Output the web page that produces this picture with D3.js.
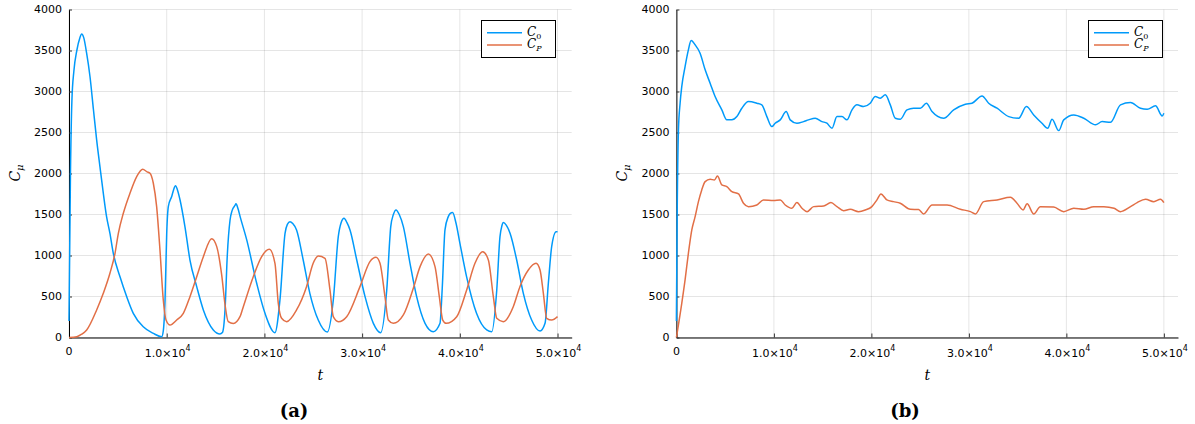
<!DOCTYPE html>
<html>
<head>
<meta charset="utf-8">
<script src="https://cdn.jsdelivr.net/npm/d3@7"></script>
<style>
  html, body { margin: 0; padding: 0; background: #fff; }
  svg { display: block; }
</style>
</head>
<body>
<svg id="chart" width="1195" height="424"></svg>
<script>
// ---------- DATA ----------
const yTicks = [0, 500, 1000, 1500, 2000, 2500, 3000, 3500, 4000];
const xTicks = [0, 10000, 20000, 30000, 40000, 50000];
const xTickLabels = ["0", "1.0×10", "2.0×10", "3.0×10", "4.0×10", "5.0×10"];
const seriesNames = ["C0", "CP"];
const panelCaptions = ["(a)", "(b)"];

// Panel (a): oscillating
const tA_C0 = [0,150,300,500,800,1100,1300,1500,1800,2150,2500,2830,3170,3510,3850,4190,4530,5220,5900,6580,7600,8630,9490,9650,9830,10000,10170,10510,10700,10900,11100,11360,11870,12380,13070,13750,14770,15450,15700,15970,16200,16480,16700,16990,17090,17300,17500,18190,19210,20060,21080,21590,22110,22350,22620,22900,23290,23970,24650,25510,26440,27050,27560,27850,28150,28450,28760,29450,30300,31150,31900,32520,32930,33200,33470,33800,34220,34900,35580,36440,37290,37970,38200,38480,38820,39000,39260,39600,40010,40690,41710,42750,43270,43780,44110,44300,44450,44750,45140,45820,46500,47350,48210,48720,49060,49400,49850,50000];
const vA_C0 = [200,2000,2900,3250,3500,3650,3700,3660,3470,3180,2780,2410,2080,1760,1470,1270,1030,740,500,295,130,50,10,80,460,1270,1600,1720,1800,1850,1800,1680,1350,945,620,336,92,43,60,340,1000,1430,1550,1610,1630,1570,1480,1190,661,295,59,457,1271,1380,1413,1390,1312,945,539,213,67,457,1230,1400,1454,1400,1312,945,498,173,59,580,1352,1500,1556,1500,1352,905,498,173,71,173,600,1312,1474,1510,1523,1400,1149,742,295,92,71,580,1230,1360,1401,1370,1271,945,539,213,79,173,661,1108,1291,1290];

const tA_CP = [0,800,1300,1810,2830,3510,4190,4710,5050,5560,6240,6930,7540,8000,8290,8630,8970,9310,9650,9930,10340,11020,11700,12380,13070,13750,14600,15120,15630,15970,16300,16820,17500,17840,18860,19720,20500,21080,21420,21760,22270,23290,24310,24990,25510,26200,26710,27050,27570,28420,29780,30800,31420,31830,32340,32680,33190,34220,35240,35930,36780,37460,37900,38250,38600,39680,40700,41550,42340,42920,43430,43780,44450,45470,46150,47010,47800,48210,48550,48890,49400,50000];
const vA_CP = [0,10,40,92,336,539,783,1027,1271,1515,1759,1962,2052,2020,2003,1881,1596,1067,457,213,152,213,295,498,742,986,1205,1108,760,400,193,172,254,376,742,986,1076,905,417,234,193,336,620,905,994,966,580,254,193,254,620,925,978,905,498,213,173,275,600,864,1018,864,498,213,173,254,580,905,1047,945,498,234,193,376,620,823,905,823,539,234,213,254];

// Panel (b): relaxing to a steady state
const tB_C0 = [0,80,210,380,550,890,1230,1510,1920,2430,2950,3460,3970,4660,5170,5690,6200,6710,7390,8250,8760,9280,9790,10130,10650,11260,11670,12360,13040,13550,14240,14930,15440,15960,16470,16980,17490,18010,18520,19200,19880,20400,20910,21430,21940,22450,22970,23650,24330,25020,25640,26220,27410,28440,29640,30320,31350,32030,32890,34090,35110,35900,36650,37500,38090,38530,39220,39730,40760,41790,42990,43670,44530,45550,46580,47600,48290,49140,49830,50000];
const vB_C0 = [200,1500,2531,2857,3060,3304,3508,3621,3570,3467,3264,3101,2938,2776,2654,2654,2694,2796,2877,2857,2837,2694,2572,2613,2654,2755,2654,2613,2633,2654,2674,2633,2613,2552,2694,2694,2654,2776,2837,2816,2857,2938,2918,2959,2837,2674,2662,2776,2796,2796,2857,2755,2674,2776,2845,2857,2946,2857,2796,2694,2674,2816,2714,2613,2552,2662,2523,2654,2714,2674,2593,2633,2625,2837,2865,2796,2784,2825,2702,2735];

const tB_CP = [0,550,890,1230,1580,1920,2260,2600,2950,3460,3900,4210,4660,5170,5690,6370,6880,7390,8250,8930,9960,10650,11160,11850,12360,12880,13400,14080,15100,15850,16470,17150,17830,18690,19370,20050,20570,20980,21590,22270,22960,23990,24840,25360,26220,27760,29130,30160,30670,31520,32890,34260,34940,35560,35970,36650,37330,38700,39730,40760,41790,42810,43840,44890,45550,46580,47260,48120,48970,49660,50000];
const vB_CP = [0,417,702,1027,1312,1474,1657,1800,1901,1930,1920,1970,1861,1840,1779,1751,1637,1596,1616,1678,1670,1678,1616,1576,1645,1576,1535,1596,1604,1645,1596,1547,1563,1535,1555,1596,1678,1751,1678,1657,1637,1564,1560,1507,1617,1617,1564,1535,1507,1657,1678,1710,1637,1556,1630,1507,1596,1590,1535,1576,1564,1596,1596,1576,1535,1596,1645,1686,1657,1686,1645];

// ---------- LAYOUT / STYLE ----------
const colors = { C0: "#009AFA", CP: "#E26F46" };
const xMax = 51450, yMax = 4000;
const panels = [
  { x0: 69.0, x1: 571.7, cap: panelCaptions[0], capX: 294, legX: 481,
    series: [{ name: "C0", t: tA_C0, v: vA_C0 }, { name: "CP", t: tA_CP, v: vA_CP }] },
  { x0: 676.4, x1: 1178.0, cap: panelCaptions[1], capX: 905, legX: 1088,
    series: [{ name: "C0", t: tB_C0, v: vB_C0 }, { name: "CP", t: tB_CP, v: vB_CP }] }
];
const yTop = 9.5, yBot = 337.5;

const svg = d3.select("#chart");
const sans = "'DejaVu Sans', sans-serif";
const serif = "'DejaVu Serif', 'Liberation Serif', serif";

panels.forEach(p => {
  const x = d3.scaleLinear().domain([0, xMax]).range([p.x0, p.x1]);
  const y = d3.scaleLinear().domain([0, yMax]).range([yBot, yTop]);
  const g = svg.append("g");

  // grid
  g.append("g").selectAll("line").data(yTicks).join("line")
    .attr("x1", p.x0).attr("x2", p.x1)
    .attr("y1", d => y(d)).attr("y2", d => y(d))
    .attr("stroke", "#000").attr("stroke-opacity", 0.1).attr("stroke-width", 1);
  g.append("g").selectAll("line").data(xTicks).join("line")
    .attr("x1", d => x(d)).attr("x2", d => x(d))
    .attr("y1", yTop).attr("y2", yBot)
    .attr("stroke", "#000").attr("stroke-opacity", 0.1).attr("stroke-width", 1);

  // axes
  const xAxis = d3.axisBottom(x).tickValues(xTicks).tickSizeInner(-4).tickSizeOuter(0).tickFormat("");
  const gx = g.append("g").attr("transform", `translate(0,${yBot})`).call(xAxis);
  gx.select(".domain").attr("stroke", "#000").attr("stroke-width", 1);
  gx.selectAll(".tick line").attr("stroke", "#333");

  const yAxis = d3.axisLeft(y).tickValues(yTicks).tickSizeInner(-3).tickSizeOuter(0).tickFormat("");
  const gy = g.append("g").attr("transform", `translate(${p.x0},0)`).call(yAxis);
  gy.select(".domain").attr("stroke", "#000").attr("stroke-width", 1);
  gy.selectAll(".tick line").attr("stroke", "#333");

  // y tick labels
  g.append("g").selectAll("text").data(yTicks).join("text")
    .attr("x", p.x0 - 7).attr("y", d => y(d)).attr("dy", "0.36em")
    .attr("text-anchor", "end").attr("font-family", sans).attr("font-size", 11)
    .attr("fill", "#000").text(d => d);

  // x tick labels
  xTicks.forEach((d, i) => {
    if (i === 0) {
      g.append("text").attr("x", x(d)).attr("y", 354.5)
        .attr("text-anchor", "middle").attr("font-family", sans).attr("font-size", 11)
        .text(xTickLabels[i]);
    } else {
      const t = g.append("text").attr("x", x(d) + 1).attr("y", 357)
        .attr("text-anchor", "middle").attr("font-family", sans).attr("font-size", 11);
      t.append("tspan").text(xTickLabels[i]);
      t.append("tspan").attr("dy", -6).attr("font-size", 8).text("4");
    }
  });

  // lines
  const line = d3.line().x(d => x(d[0])).y(d => y(d[1])).curve(d3.curveMonotoneX);
  p.series.forEach(s => {
    const pts = s.t.map((t, i) => [t, s.v[i]]);
    g.append("path").datum(pts).attr("d", line)
      .attr("fill", "none").attr("stroke", colors[s.name])
      .attr("stroke-width", 1.5).attr("stroke-linejoin", "round");
  });

  // axis labels
  const xl = (p.x0 + p.x1) / 2;
  g.append("text").attr("x", xl).attr("y", 380).attr("text-anchor", "middle")
    .attr("font-family", serif).attr("font-style", "italic").attr("font-size", 14).text("t");

  const yl = g.append("text").attr("transform", `translate(${p.x0 - 49},173) rotate(-90)`)
    .attr("text-anchor", "middle").attr("font-family", serif).attr("font-size", 14);
  yl.append("tspan").attr("font-style", "italic").text("C");
  yl.append("tspan").attr("dy", 3).attr("font-size", 10).attr("font-style", "italic").text("μ");

  // caption
  g.append("text").attr("x", p.capX).attr("y", 417).attr("text-anchor", "middle")
    .attr("font-family", serif).attr("font-weight", "bold").attr("font-size", 18).text(p.cap);

  // legend
  const lg = g.append("g");
  lg.append("rect").attr("x", p.legX + 0.5).attr("y", 20.5).attr("width", 74).attr("height", 37)
    .attr("fill", "#fff").attr("stroke", "#000").attr("stroke-width", 1);
  const subs = ["0", "P"];
  seriesNames.forEach((n, i) => {
    const ly = 32.7 + i * 12.3;
    lg.append("line").attr("x1", p.legX + 6).attr("x2", p.legX + 41)
      .attr("y1", ly).attr("y2", ly).attr("stroke", colors[n]).attr("stroke-width", 1.4);
    const tx = lg.append("text").attr("x", p.legX + 46).attr("y", ly + 3)
      .attr("font-family", serif).attr("font-size", 12).attr("font-style", "italic");
    tx.append("tspan").text("C");
    tx.append("tspan").attr("dy", 3).attr("font-size", 8).attr("font-style", i === 0 ? "normal" : "italic").text(subs[i]);
  });
});
</script>
</body>
</html>
